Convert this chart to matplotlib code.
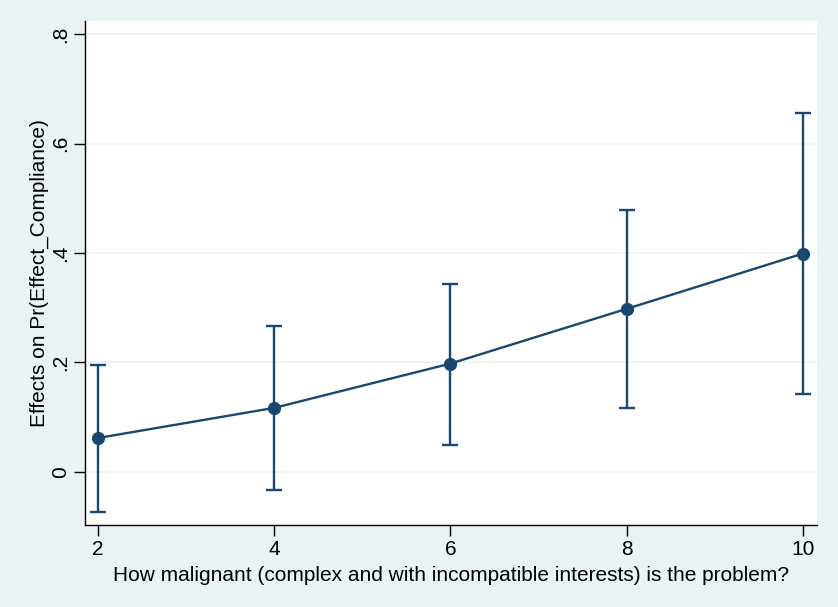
import matplotlib
matplotlib.use('Agg')
import matplotlib.pyplot as plt

plt.rcParams['font.family'] = ['Liberation Sans', 'DejaVu Sans']

# Data
x_vals = [2, 4, 6, 8, 10]
effects = [0.062, 0.117, 0.198, 0.298, 0.399]
ci_low = [-0.073, -0.033, 0.049, 0.117, 0.142]
ci_high = [0.195, 0.267, 0.344, 0.479, 0.656]
y_ticks = [0, 0.2, 0.4, 0.6, 0.8]
y_tick_labels = ['0', '.2', '.4', '.6', '.8']
x_ticks = [2, 4, 6, 8, 10]

navy = '#1a476f'
bg = '#eaf2f3'

fig = plt.figure(figsize=(8.38, 6.07), dpi=100, facecolor=bg)
ax = fig.add_axes([85 / 838, 1 - 525 / 607, (817 - 85) / 838, (525 - 21) / 607])
ax.set_facecolor('white')

err_lo = [e - l for e, l in zip(effects, ci_low)]
err_hi = [h - e for e, h in zip(effects, ci_high)]
ax.errorbar(x_vals, effects, yerr=[err_lo, err_hi], color=navy, lw=1.7,
            marker='o', ms=8.5, capsize=6, capthick=1.7, elinewidth=1.7, zorder=3)

ax.set_xlim(1.852, 10.16)
ax.set_ylim(-0.097, 0.824)
ax.set_yticks(y_ticks)
ax.set_yticklabels(y_tick_labels, rotation=90, va='center')
ax.set_xticks(x_ticks)
ax.grid(axis='y', color=bg, lw=1.2)
ax.set_axisbelow(True)

for side in ['top', 'right']:
    ax.spines[side].set_visible(False)
for side in ['left', 'bottom']:
    ax.spines[side].set_color('black')
    ax.spines[side].set_linewidth(1.0)
ax.tick_params(length=8, width=1, labelsize=15, pad=3)

ax.set_xlabel('How malignant (complex and with incompatible interests) is the problem?',
              fontsize=15, labelpad=4.5)
ax.set_ylabel('Effects on Pr(Effect_Compliance)', fontsize=15, labelpad=1)

fig.savefig('out.png', dpi=100, facecolor=bg)
